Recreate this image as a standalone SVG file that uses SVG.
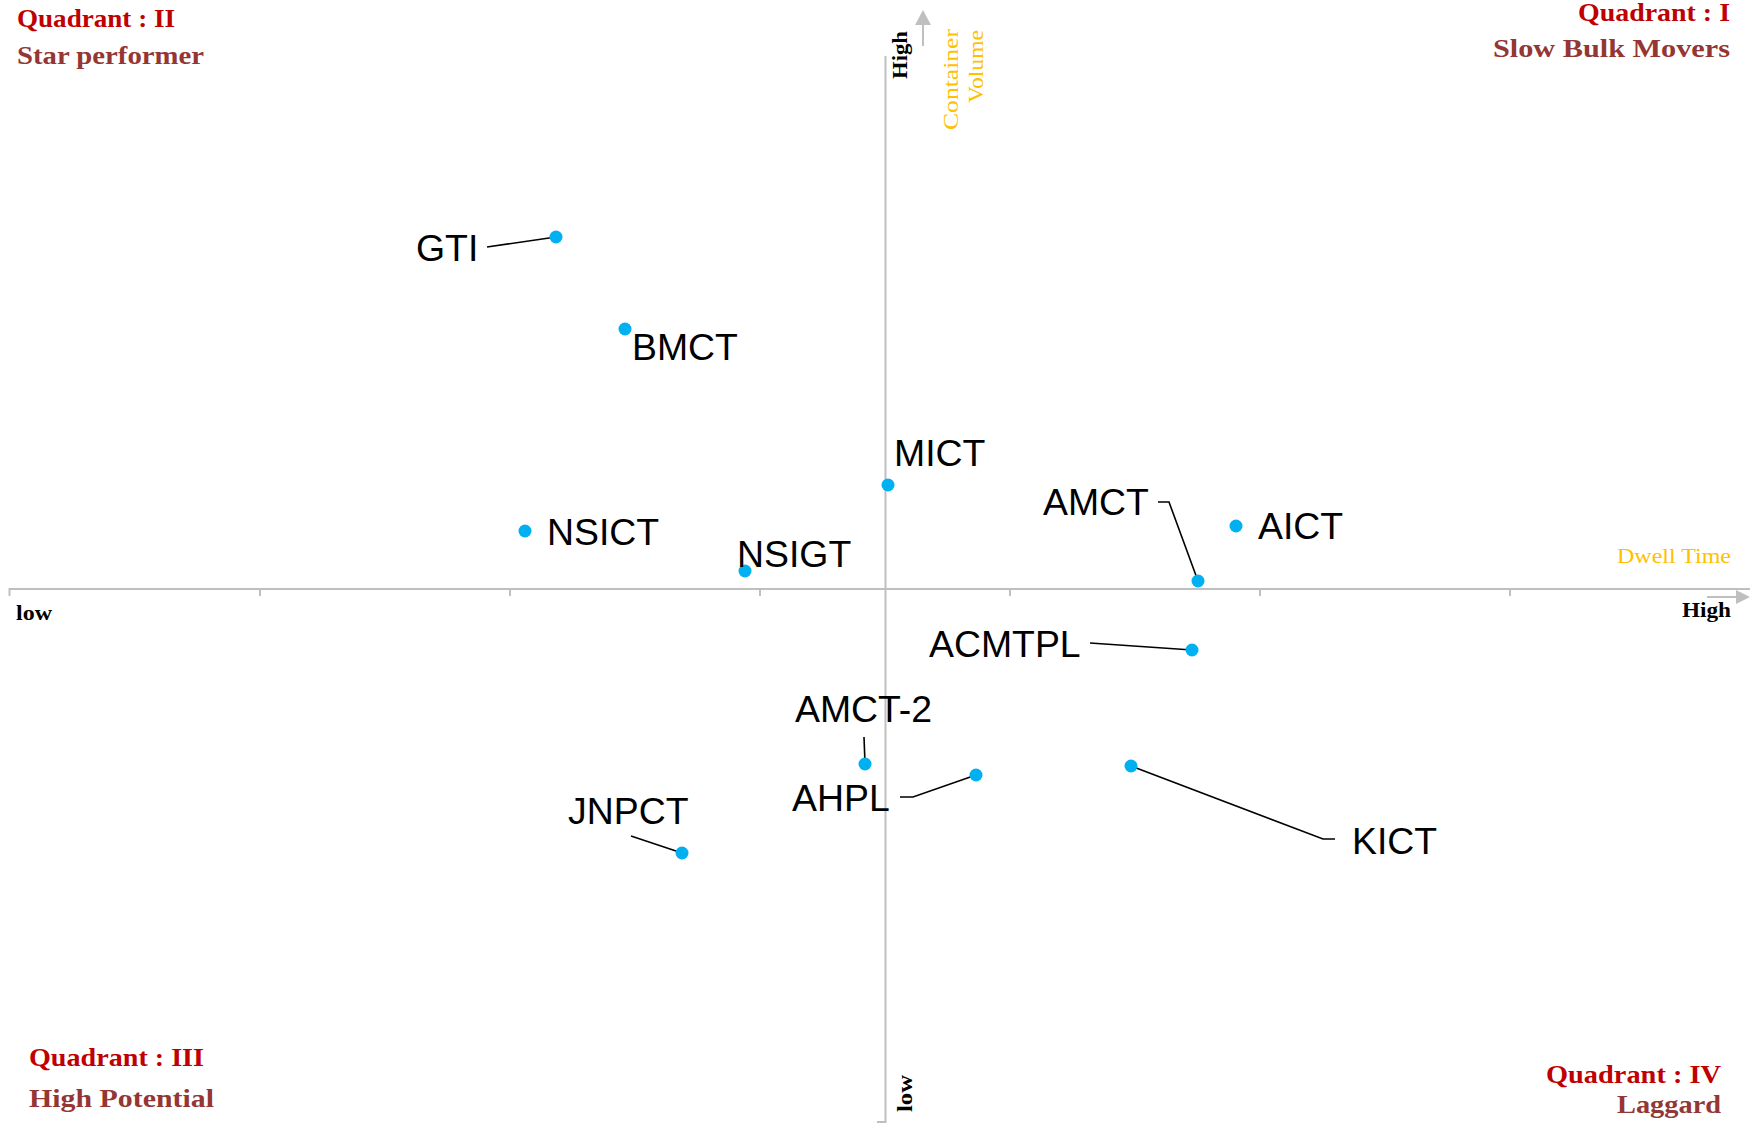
<svg xmlns="http://www.w3.org/2000/svg" width="1750" height="1124" viewBox="0 0 1750 1124">
<style>
.axis{stroke:#BFBFBF;stroke-width:2;fill:none}
.arr{fill:#BFBFBF}
.lead{stroke:#000;stroke-width:1.6;fill:none}
.dot{fill:#00B0F0}
.lbl{font-family:"Liberation Sans",Arial,sans-serif;font-size:37.4px;fill:#000}
.qt{font-family:"Liberation Serif","Times New Roman",serif;font-weight:bold;font-size:26px;fill:#C00000}
.qs{font-family:"Liberation Serif","Times New Roman",serif;font-weight:bold;font-size:26px;fill:#943634}
.ax{font-family:"Liberation Serif","Times New Roman",serif;font-weight:bold;font-size:20px;fill:#000}
.ot{font-family:"Liberation Serif","Times New Roman",serif;font-size:22px;fill:#FFC000}
</style>
<rect width="1750" height="1124" fill="#fff"/>
<g id="axes">
<path class="axis" d="M9.5 596 V589 H1750 M260 589 V596 M510 589 V596 M760 589 V596 M1010 589 V596 M1260 589 V596 M1510 589 V596"/>
<path class="axis" d="M885.5 56 V1122 H877"/>
<path class="axis" d="M923 46 V22"/>
<polygon class="arr" points="915,25 931,25 923,10"/>
<path class="axis" d="M1707 597 H1738"/>
<polygon class="arr" points="1736,590 1736,604 1750,597"/>
</g>
<g id="axis-labels">
<text class="ax" x="16" y="620" textLength="36" lengthAdjust="spacingAndGlyphs">low</text>
<text class="ax" x="1682" y="617" textLength="49" lengthAdjust="spacingAndGlyphs">High</text>
<text class="ax" transform="translate(907,79) rotate(-90)" textLength="48" lengthAdjust="spacingAndGlyphs">High</text>
<text class="ax" transform="translate(912,1112) rotate(-90)" textLength="37" lengthAdjust="spacingAndGlyphs">low</text>
<text class="ot" transform="translate(958,130) rotate(-90)" textLength="101" lengthAdjust="spacingAndGlyphs">Container</text>
<text class="ot" transform="translate(983,103) rotate(-90)" textLength="73" lengthAdjust="spacingAndGlyphs">Volume</text>
<text class="ot" x="1617" y="563" textLength="114" lengthAdjust="spacingAndGlyphs">Dwell Time</text>
</g>
<g id="quadrants">
<text class="qt" x="17" y="27" textLength="158" lengthAdjust="spacingAndGlyphs">Quadrant : II</text>
<text class="qs" x="17" y="64" textLength="187" lengthAdjust="spacingAndGlyphs">Star performer</text>
<text class="qt" x="1578" y="21" textLength="152" lengthAdjust="spacingAndGlyphs">Quadrant : I</text>
<text class="qs" x="1493" y="57" textLength="237" lengthAdjust="spacingAndGlyphs">Slow Bulk Movers</text>
<text class="qt" x="29" y="1066" textLength="175" lengthAdjust="spacingAndGlyphs">Quadrant : III</text>
<text class="qs" x="29" y="1107" textLength="185" lengthAdjust="spacingAndGlyphs">High Potential</text>
<text class="qt" x="1546" y="1083" textLength="175" lengthAdjust="spacingAndGlyphs">Quadrant : IV</text>
<text class="qs" x="1617" y="1113" textLength="104" lengthAdjust="spacingAndGlyphs">Laggard</text>
</g>
<g id="connectors">
<path class="lead" d="M487 247 L556 237"/>
<path class="lead" d="M1158 502 H1169 L1198 581"/>
<path class="lead" d="M1090 643 L1192 650"/>
<path class="lead" d="M864 737 L865 763"/>
<path class="lead" d="M900 797 H913 L976 775"/>
<path class="lead" d="M631 836 L682 853"/>
<path class="lead" d="M1335 839 H1323 L1131 766"/>
</g>
<g id="GTI"><circle class="dot" cx="556" cy="237" r="6.5"/><text class="lbl" x="416" y="261">GTI</text></g>
<g id="BMCT"><circle class="dot" cx="625" cy="329" r="6.5"/><text class="lbl" x="632" y="360">BMCT</text></g>
<g id="NSICT"><circle class="dot" cx="525" cy="531" r="6.5"/><text class="lbl" x="547" y="545">NSICT</text></g>
<g id="NSIGT"><circle class="dot" cx="745" cy="571" r="6.5"/><text class="lbl" x="737" y="567">NSIGT</text></g>
<g id="MICT"><circle class="dot" cx="888" cy="485" r="6.5"/><text class="lbl" x="894" y="466">MICT</text></g>
<g id="AMCT"><circle class="dot" cx="1198" cy="581" r="6.5"/><text class="lbl" x="1043" y="515">AMCT</text></g>
<g id="AICT"><circle class="dot" cx="1236" cy="526" r="6.5"/><text class="lbl" x="1258" y="539">AICT</text></g>
<g id="ACMTPL"><circle class="dot" cx="1192" cy="650" r="6.5"/><text class="lbl" x="929" y="657">ACMTPL</text></g>
<g id="AMCT-2"><circle class="dot" cx="865" cy="764" r="6.5"/><text class="lbl" x="795" y="722">AMCT-2</text></g>
<g id="AHPL"><circle class="dot" cx="976" cy="775" r="6.5"/><text class="lbl" x="792" y="811">AHPL</text></g>
<g id="JNPCT"><circle class="dot" cx="682" cy="853" r="6.5"/><text class="lbl" x="568" y="824">JNPCT</text></g>
<g id="KICT"><circle class="dot" cx="1131" cy="766" r="6.5"/><text class="lbl" x="1352" y="854">KICT</text></g>
</svg>
